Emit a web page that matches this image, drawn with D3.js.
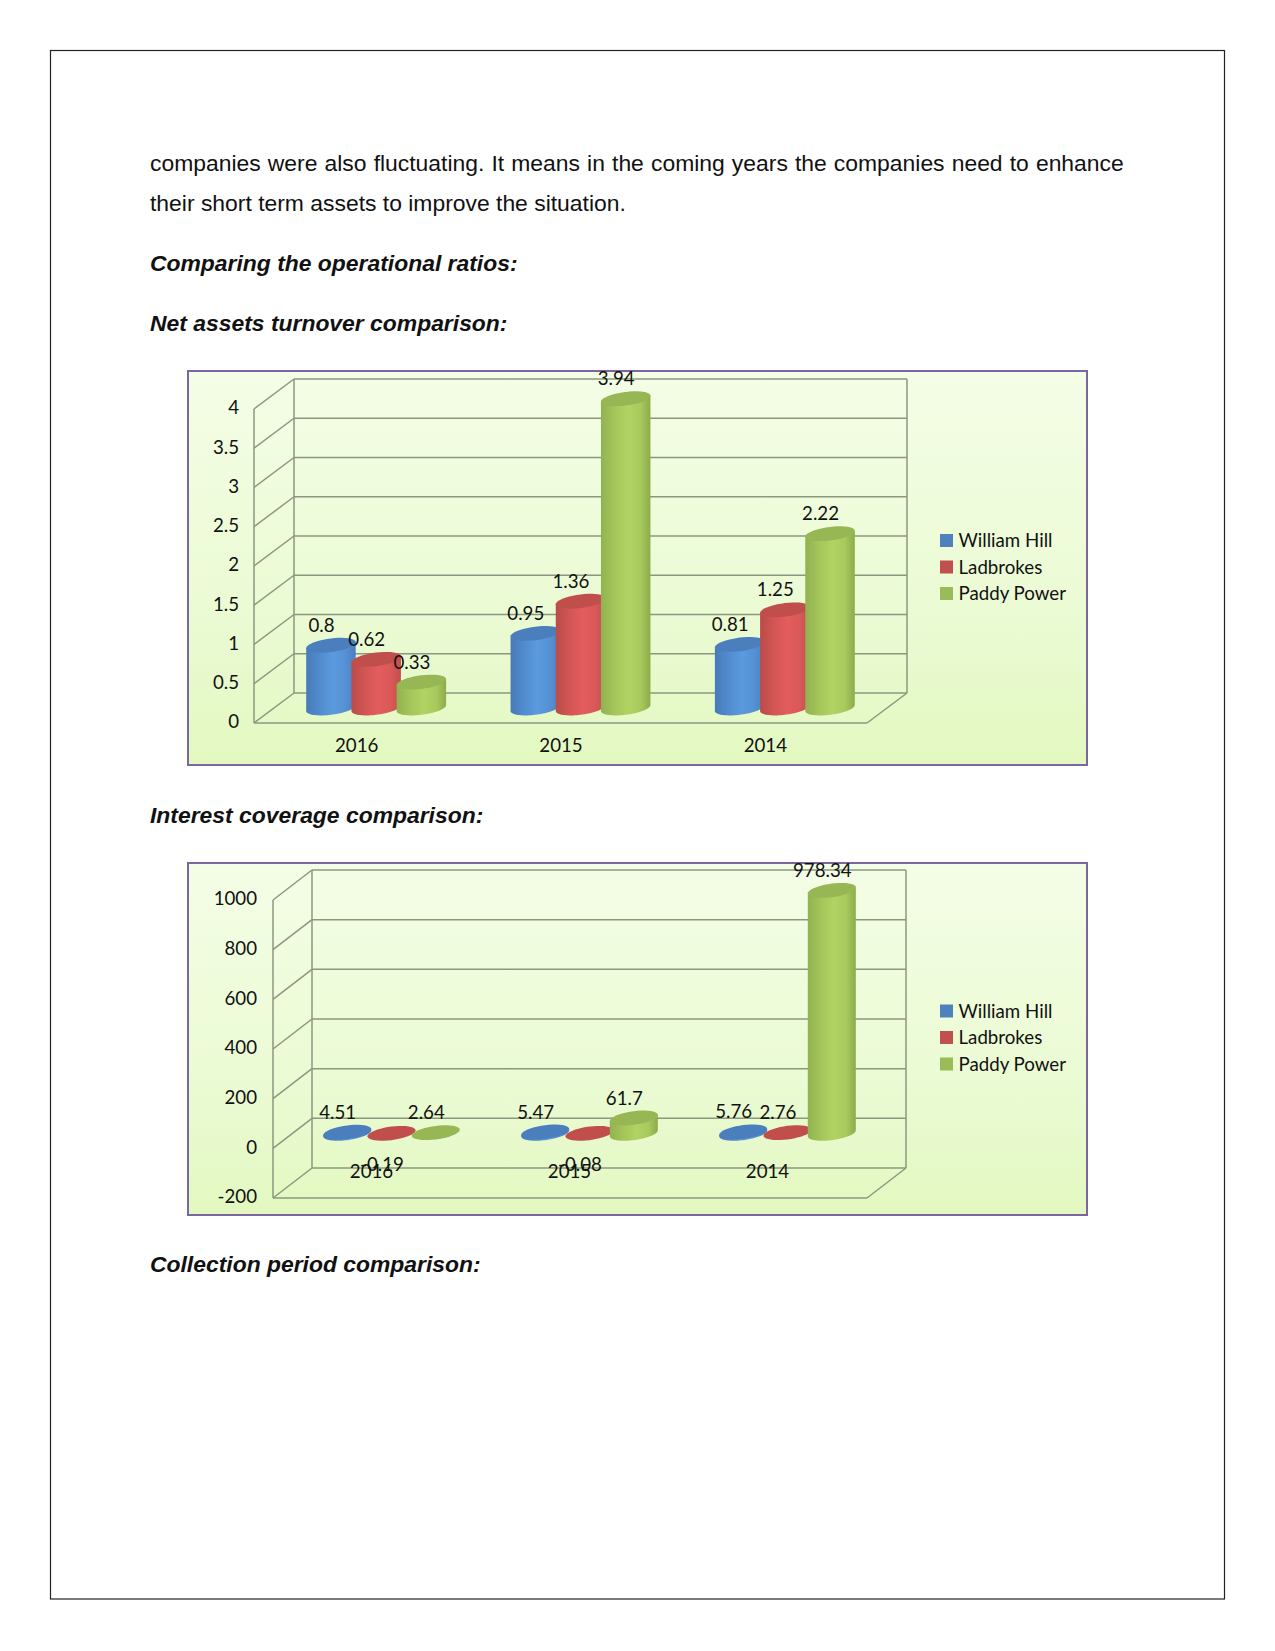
<!DOCTYPE html>
<html><head><meta charset="utf-8">
<script src="https://cdn.jsdelivr.net/npm/d3@7/dist/d3.min.js"></script>
<style>html,body{margin:0;padding:0;background:#fff}svg{display:block}</style>
</head><body><div id="c"></div>
<script>
const categories = ["2016","2015","2014"];
const seriesNames = ["William Hill","Ladbrokes","Paddy Power"];
const turnoverHill = [0.8,0.95,0.81];
const turnoverLadbrokes = [0.62,1.36,1.25];
const turnoverPaddy = [0.33,3.94,2.22];
const turnoverTicks = [0,0.5,1,1.5,2,2.5,3,3.5,4];
const coverageHill = [4.51,5.47,5.76];
const coverageLadbrokes = [-0.19,-0.08,2.76];
const coveragePaddy = [2.64,61.7,978.34];
const coverageTicks = [-200,0,200,400,600,800,1000];
const paragraphLines = [
 ["companies were also fluctuating. It means in the coming years the companies need to enhance",171,false,0.75],
 ["their short term assets to improve the situation.",211,false,0],
 ["Comparing the operational ratios:",271,true,0],
 ["Net assets turnover comparison:",331,true,0],
 ["Interest coverage comparison:",823,true,0],
 ["Collection period comparison:",1272,true,0]
];
const sideStops = [
 [["#477bb8",0],["#528dd0",.3],["#5b9ade",.55],["#5590d4",.8],["#4a80c0",1]],
 [["#b94c49",0],["#d45655",.3],["#e35d5d",.55],["#d95858",.8],["#c04f4c",1]],
 [["#92b250",0],["#a5c75b",.3],["#b0d364",.55],["#a8ca5d",.8],["#8dab4c",1]]
];
const topColors = ["#4a7ebd","#c04f4c","#97b654"];
const legendColors = ["#4f81bd","#c0504d","#9bbb59"];

const svg = d3.select("#c").append("svg").attr("width",1275).attr("height",1651);
const defs = svg.append("defs");
const bg = defs.append("linearGradient").attr("id","bg").attr("x1",0).attr("y1",0).attr("x2",0).attr("y2",1);
[["#f4fde6",0],["#eefcda",.4],["#e9fad0",.7],["#e3f8c0",1]].forEach(s=>bg.append("stop").attr("offset",s[1]).attr("stop-color",s[0]));
sideStops.forEach((st,i)=>{
  const g = defs.append("linearGradient").attr("id","side"+i).attr("x1",0).attr("y1",0).attr("x2",1).attr("y2",0);
  st.forEach(s=>g.append("stop").attr("offset",s[1]).attr("stop-color",s[0]));
});

svg.append("rect").attr("x",50.5).attr("y",50.5).attr("width",1174).attr("height",1548.5)
  .attr("fill","none").attr("stroke","#222").attr("stroke-width",1.2);

svg.selectAll("text.para").data(paragraphLines).join("text").attr("class","para")
  .attr("x",150).attr("y",d=>d[1])
  .attr("font-family","'Liberation Sans',Arial,sans-serif")
  .attr("font-size",22.9)
  .attr("word-spacing",d=>d[3])
  .attr("font-weight",d=>d[2]?"bold":"normal")
  .attr("font-style",d=>d[2]?"italic":"normal")
  .attr("fill","#111").text(d=>d[0]);

const FONT = "Lato, Carlito, sans-serif", FS = 18.7;

function chart(o){
  const {frame,front,depth,domain,ticks,values,tickX,barW,barStep,catY,legendFirst} = o;
  const g = svg.append("g");
  g.append("rect").attr("x",frame[0]).attr("y",frame[1]).attr("width",frame[2]-frame[0]).attr("height",frame[3]-frame[1])
    .attr("fill","url(#bg)").attr("stroke","#7a66a0").attr("stroke-width",2);
  const y = d3.scaleLinear().domain(domain).range([front.bottom,front.top]);
  const x = d3.scaleBand().domain(categories).range([front.left,front.right]);
  const grid = g.append("g").attr("fill","none").attr("stroke","#8a9880").attr("stroke-width",1.5);
  const backL = front.left+depth[0], backR = front.right+depth[0];
  grid.selectAll("line.h").data(ticks).join("line").attr("class","h")
    .attr("x1",backL).attr("x2",backR).attr("y1",d=>y(d)+depth[1]).attr("y2",d=>y(d)+depth[1]);
  grid.selectAll("line.d").data(ticks).join("line").attr("class","d")
    .attr("x1",front.left).attr("x2",backL).attr("y1",d=>y(d)).attr("y2",d=>y(d)+depth[1]);
  const lo=domain[0], hi=domain[1];
  [[front.left,y(lo),front.left,y(hi)],[backL,y(lo)+depth[1],backL,y(hi)+depth[1]],[backR,y(lo)+depth[1],backR,y(hi)+depth[1]],
   [front.left,y(lo),front.right,y(lo)],[front.right,y(lo),backR,y(lo)+depth[1]]].forEach(l=>
    grid.append("line").attr("x1",l[0]).attr("y1",l[1]).attr("x2",l[2]).attr("y2",l[3]));

  const yAxis = g.append("g").attr("transform",`translate(${tickX},-1.2)`)
    .call(d3.axisLeft(y).tickValues(ticks).tickSize(0).tickPadding(0).tickFormat(d=>String(d)));
  yAxis.select(".domain").remove();
  yAxis.selectAll("text").attr("font-family",FONT).attr("font-size",FS).attr("fill","#111");

  const rx = barW/2, kr = 3, ry = 6.8;
  const line = d3.line();
  const arc = (cx,cy,a0,a1)=>d3.range(0,41).map(i=>{
    const t=a0+(a1-a0)*i/40;
    return [cx+rx*Math.cos(t), cy-kr*Math.cos(t)+ry*Math.sin(t)];
  });
  const flat = y(0)+depth[1]/2;
  const yVal = v=>flat+(y(v)-y(0));
  const labels = [];
  categories.forEach((c,ci)=>{
    const center = x(c)+x.bandwidth()/2+depth[0]/2;
    values.forEach((vals,si)=>{
      const v = vals[ci], cx = center+(si-1)*barStep;
      const top = Math.min(yVal(v),flat), base = flat;
      const side = [[cx-rx,top+kr],...arc(cx,base,Math.PI,0),[cx+rx,top-kr]];
      if (Math.abs(yVal(v)-flat)>1)
        g.append("path").attr("d",line(side)+"Z").attr("fill",`url(#side${si})`);
      g.append("path").attr("d",line(arc(cx,top,0,2*Math.PI))+"Z").attr("fill",topColors[si]);
      labels.push({v,lx:cx-9.5,ly:v<0?top+31:top-20});
    });
  });
  g.selectAll("text.lab").data(labels).join("text").attr("class","lab")
    .attr("x",d=>d.lx).attr("y",d=>d.ly).attr("dy","0.35em").attr("text-anchor","middle")
    .attr("font-family",FONT).attr("font-size",FS).attr("fill","#111").text(d=>d.v);

  const xAxis = g.append("g").attr("transform",`translate(${o.catDx},${catY})`)
    .call(d3.axisBottom(x).tickSize(0).tickPadding(0));
  xAxis.select(".domain").remove();
  xAxis.selectAll("text").attr("font-family",FONT).attr("font-size",FS).attr("fill","#111").attr("dy","0.35em").attr("y",0);

  const ly = d3.scalePoint().domain(seriesNames).range([legendFirst,legendFirst+53]);
  const leg = g.selectAll("g.leg").data(seriesNames).join("g").attr("class","leg").attr("transform",d=>`translate(940,${ly(d)})`);
  leg.append("rect").attr("x",0).attr("y",-6.5).attr("width",13).attr("height",13).attr("fill",(d,i)=>legendColors[i]);
  leg.append("text").attr("x",18.5).attr("dy","0.35em").attr("font-family",FONT).attr("font-size",FS).attr("fill","#111").text(d=>d);
}

chart({frame:[188,371,1087,765],front:{left:254,right:867,top:409,bottom:723},depth:[40,-30],
  domain:[0,4],ticks:turnoverTicks,values:[turnoverHill,turnoverLadbrokes,turnoverPaddy],
  tickX:239,barW:49.5,barStep:45.2,catY:745,catDx:0.5,legendFirst:540.5});
chart({frame:[188,863,1087,1215],front:{left:273,right:867,top:900,bottom:1198},depth:[39,-30],
  domain:[-200,1000],ticks:coverageTicks,values:[coverageHill,coverageLadbrokes,coveragePaddy],
  tickX:257,barW:48,barStep:44.3,catY:1171,catDx:-0.5,legendFirst:1011});
</script></body></html>
